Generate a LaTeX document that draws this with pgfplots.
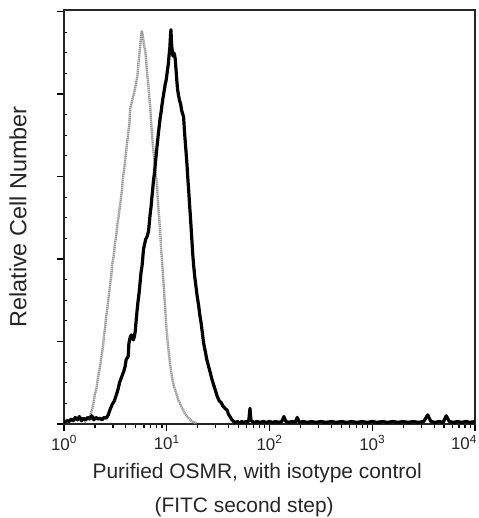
\documentclass[border=0pt]{standalone}
\usepackage{pgfplots}
\pgfplotsset{compat=1.18}
\usepackage{fontspec}
\setmainfont{Liberation Sans}
% x values are log10 of fluorescence intensity
\pgfplotstableread{
x y
0.20 0.02
0.23 0.06
0.254 0.10
0.27 0.16
0.285 0.24
0.30 0.36
0.315 0.42
0.33 0.56
0.351 0.70
0.36 0.78
0.37 0.86
0.38 0.95
0.39 1.08
0.40 1.16
0.41 1.30
0.42 1.38
0.432 1.52
0.44 1.60
0.45 1.70
0.46 1.80
0.47 1.94
0.485 2.05
0.497 2.20
0.51 2.30
0.52 2.42
0.53 2.50
0.54 2.60
0.55 2.70
0.563 2.82
0.575 3.00
0.585 3.08
0.60 3.24
0.615 3.42
0.628 3.56
0.636 3.62
0.644 3.82
0.652 3.86
0.66 3.90
0.67 3.96
0.68 4.00
0.69 4.06
0.70 4.12
0.715 4.22
0.725 4.38
0.735 4.50
0.745 4.62
0.752 4.74
0.758 4.77
0.765 4.72
0.772 4.66
0.78 4.58
0.791 4.52
0.80 4.40
0.81 4.24
0.823 4.08
0.83 3.96
0.838 3.86
0.845 3.70
0.855 3.54
0.865 3.38
0.875 3.26
0.885 3.12
0.895 3.00
0.904 2.92
0.912 2.74
0.92 2.60
0.93 2.44
0.937 2.32
0.945 2.12
0.952 2.00
0.96 1.86
0.969 1.70
0.977 1.56
0.985 1.40
0.993 1.24
1.00 1.12
1.01 0.98
1.02 0.86
1.035 0.70
1.05 0.58
1.065 0.48
1.08 0.42
1.10 0.34
1.115 0.28
1.13 0.25
1.145 0.20
1.16 0.17
1.18 0.12
1.20 0.09
1.23 0.05
1.26 0.02
1.29 0.01
}\isotype
\pgfplotstableread{
x y
0.00 0.02
0.03 0.04
0.05 0.03
0.07 0.06
0.09 0.04
0.11 0.08
0.13 0.05
0.15 0.09
0.17 0.04
0.19 0.07
0.21 0.05
0.23 0.08
0.25 0.06
0.27 0.10
0.29 0.05
0.31 0.08
0.33 0.06
0.35 0.07
0.37 0.05
0.39 0.08
0.41 0.07
0.43 0.11
0.45 0.18
0.47 0.24
0.49 0.28
0.514 0.37
0.53 0.44
0.54 0.50
0.555 0.55
0.57 0.60
0.582 0.64
0.595 0.70
0.605 0.78
0.615 0.80
0.625 0.82
0.632 0.98
0.644 1.05
0.655 1.08
0.665 1.04
0.675 1.02
0.685 1.06
0.693 1.12
0.70 1.22
0.71 1.36
0.72 1.48
0.73 1.58
0.741 1.72
0.75 1.84
0.76 1.92
0.774 2.12
0.785 2.18
0.795 2.24
0.805 2.26
0.815 2.30
0.823 2.34
0.832 2.46
0.84 2.56
0.848 2.64
0.855 2.74
0.863 2.84
0.87 2.94
0.88 3.04
0.888 3.14
0.897 3.26
0.905 3.36
0.912 3.44
0.920 3.54
0.928 3.62
0.935 3.70
0.945 3.78
0.953 3.86
0.962 3.94
0.97 4.00
0.978 4.06
0.985 4.12
0.993 4.16
1.00 4.22
1.008 4.30
1.015 4.36
1.022 4.46
1.03 4.56
1.036 4.70
1.041 4.78
1.046 4.62
1.052 4.54
1.06 4.46
1.068 4.50
1.075 4.48
1.083 4.42
1.09 4.30
1.097 4.18
1.105 4.06
1.115 3.98
1.125 3.92
1.135 3.88
1.145 3.80
1.155 3.76
1.164 3.72
1.172 3.56
1.18 3.42
1.189 3.28
1.197 3.14
1.205 2.98
1.213 2.84
1.222 2.66
1.23 2.52
1.238 2.36
1.245 2.22
1.253 2.06
1.262 1.92
1.273 1.78
1.285 1.66
1.297 1.54
1.31 1.44
1.322 1.32
1.335 1.22
1.347 1.10
1.359 0.98
1.375 0.88
1.39 0.78
1.407 0.70
1.424 0.62
1.44 0.54
1.46 0.46
1.475 0.40
1.49 0.34
1.51 0.28
1.53 0.26
1.545 0.22
1.56 0.20
1.575 0.18
1.587 0.17
1.60 0.12
1.62 0.08
1.635 0.05
1.652 0.03
1.67 0.02
1.69 0.03
1.71 0.01
1.73 0.03
1.75 0.02
1.77 0.03
1.79 0.02
1.80 0.06
1.81 0.19
1.82 0.04
1.85 0.02
1.88 0.03
1.91 0.02
1.94 0.03
1.97 0.02
2.00 0.03
2.03 0.02
2.06 0.03
2.09 0.02
2.12 0.03
2.14 0.09
2.16 0.03
2.19 0.02
2.22 0.03
2.25 0.02
2.27 0.08
2.29 0.02
2.33 0.03
2.37 0.02
2.41 0.03
2.45 0.02
2.50 0.03
2.55 0.02
2.60 0.03
2.65 0.02
2.70 0.03
2.75 0.02
2.80 0.03
2.85 0.02
2.90 0.03
2.95 0.02
3.00 0.03
3.05 0.02
3.10 0.03
3.15 0.02
3.20 0.03
3.25 0.02
3.30 0.03
3.35 0.02
3.40 0.03
3.45 0.02
3.50 0.03
3.54 0.11
3.57 0.03
3.61 0.02
3.65 0.03
3.69 0.02
3.72 0.10
3.75 0.03
3.79 0.02
3.83 0.03
3.87 0.02
3.91 0.03
3.95 0.02
4.00 0.03
}\osmr
\begin{document}
\begin{tikzpicture}
\begin{axis}[
  at={(0,0)}, anchor=south west,
  width=411bp, height=414bp, scale only axis,
  xmin=0, xmax=4, ymin=0, ymax=5.018,
  xtick={0,1,2,3,4},
  xticklabels={10\textsuperscript{0},10\textsuperscript{1},10\textsuperscript{2},10\textsuperscript{3},\hspace*{-22bp}10\textsuperscript{4}},
  minor xtick={0.301,0.477,0.602,0.699,0.778,0.845,0.903,0.954,
               1.301,1.477,1.602,1.699,1.778,1.845,1.903,1.954,
               2.301,2.477,2.602,2.699,2.778,2.845,2.903,2.954,
               3.301,3.477,3.602,3.699,3.778,3.845,3.903,3.954},
  ytick={0,1,2,3,4,5}, yticklabels={},
  minor ytick={0.25,0.5,0.75,1.25,1.5,1.75,2.25,2.5,2.75,3.25,3.5,3.75,4.25,4.5,4.75},
  tick pos=left, tick align=outside,
  major tick length=7bp, minor tick length=3.5bp,
  minor y tick style={xshift=3.5bp},
  every tick/.append style={black, line width=1.2bp},
  axis line style={line width=1.5bp, black!85},
  ticklabel style={font=\fontsize{17}{19}\selectfont, text=black!85},
  xticklabel style={yshift=-1bp},
  xlabel={Purified OSMR, with isotype control\\\hspace*{-26bp}(FITC second step)},
  xlabel style={at={(axis description cs:0.47,-0.0935)}, anchor=north, inner sep=0pt,
    align=center, font=\fontsize{21}{35}\selectfont, text=black!85},
  ylabel={Relative Cell Number},
  ylabel style={at={(axis description cs:-0.112,0.5)}, anchor=center, inner sep=0pt,
    font=\fontsize{23.5}{26}\selectfont, text=black!85},
  clip=true,
]
\addplot[gray!80, line width=2.4bp, dash pattern=on 1.4bp off 0.6bp, line join=round] table {\isotype};
\addplot[black, line width=3.2bp, line join=round] table {\osmr};
\end{axis}
\pgfresetboundingbox
\path[use as bounding box] (-64bp,-94bp) rectangle (415bp,424bp);
\end{tikzpicture}
\end{document}
